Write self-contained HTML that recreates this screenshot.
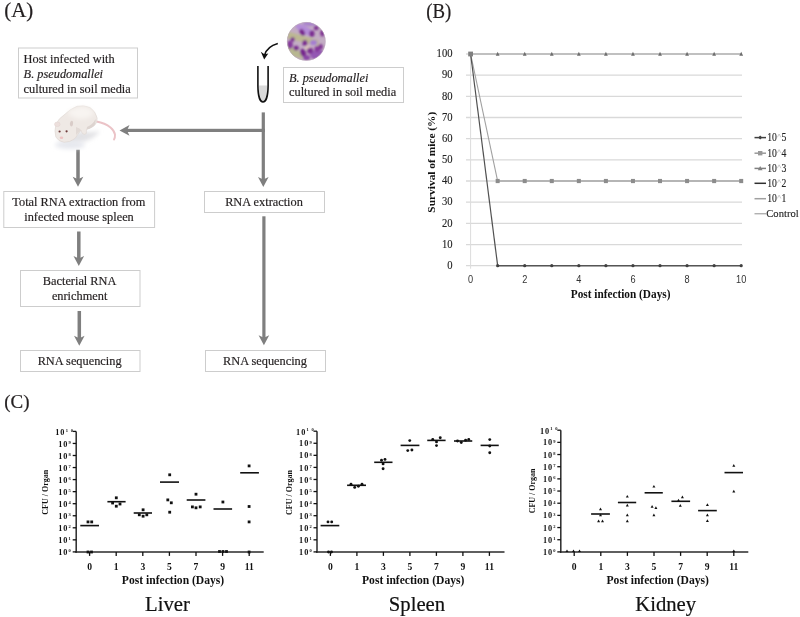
<!DOCTYPE html>
<html><head><meta charset="utf-8"><style>
html,body{margin:0;padding:0;background:#fff;}
svg{display:block;will-change:transform;}
</style></head><body>
<svg width="800" height="617" viewBox="0 0 800 617">
<rect width="800" height="617" fill="#fff"/>
<text transform="translate(4.2 17.1) scale(1.02 1)" font-family="Liberation Serif, serif" font-size="20.5" fill="#231f20" stroke="#231f20" stroke-width="0.2">(A)</text>
<text transform="translate(426.3 17.8) scale(1 1.08)" font-family="Liberation Serif, serif" font-size="18.8" fill="#231f20" stroke="#231f20" stroke-width="0.2">(B)</text>
<text transform="translate(4.3 408) scale(1 1.03)" font-family="Liberation Serif, serif" font-size="19" fill="#231f20" stroke="#231f20" stroke-width="0.2">(C)</text>
<rect x="18.5" y="48" width="119" height="50" fill="#fff" stroke="#cdcdcd" stroke-width="1"/>
<text transform="translate(23.6 62.8) scale(1 1.04)" font-family="Liberation Serif, serif" font-size="12.35" fill="#231f20" stroke="#231f20" stroke-width="0.18">Host infected with</text>
<text transform="translate(23.6 77.8) scale(1 1.04)" font-family="Liberation Serif, serif" font-size="12.35" fill="#231f20" stroke="#231f20" stroke-width="0.18" font-style="italic">B. pseudomallei</text>
<text transform="translate(23.6 92.6) scale(1 1.04)" font-family="Liberation Serif, serif" font-size="12.35" fill="#231f20" stroke="#231f20" stroke-width="0.18">cultured in soil media</text>
<rect x="283.5" y="67.5" width="120" height="35" fill="#fff" stroke="#cdcdcd" stroke-width="1"/>
<text transform="translate(289 81.5) scale(1 1.04)" font-family="Liberation Serif, serif" font-size="12.35" fill="#231f20" stroke="#231f20" stroke-width="0.18" font-style="italic">B. pseudomallei</text>
<text transform="translate(289 96.4) scale(1 1.04)" font-family="Liberation Serif, serif" font-size="12.35" fill="#231f20" stroke="#231f20" stroke-width="0.18">cultured in soil media</text>
<rect x="3.8" y="191.5" width="150.8" height="36" fill="#fff" stroke="#cdcdcd" stroke-width="1"/>
<text transform="translate(78.8 205.8) scale(1 1.04)" font-family="Liberation Serif, serif" font-size="12.35" fill="#231f20" stroke="#231f20" stroke-width="0.18" text-anchor="middle">Total RNA extraction from</text>
<text transform="translate(79 220.8) scale(1 1.04)" font-family="Liberation Serif, serif" font-size="12.35" fill="#231f20" stroke="#231f20" stroke-width="0.18" text-anchor="middle">infected mouse spleen</text>
<rect x="204.5" y="191.5" width="120" height="21" fill="#fff" stroke="#cdcdcd" stroke-width="1"/>
<text transform="translate(264 206) scale(1 1.04)" font-family="Liberation Serif, serif" font-size="12.35" fill="#231f20" stroke="#231f20" stroke-width="0.18" text-anchor="middle">RNA extraction</text>
<rect x="20.5" y="270.5" width="119.5" height="36" fill="#fff" stroke="#cdcdcd" stroke-width="1"/>
<text transform="translate(79.6 284.8) scale(1 1.04)" font-family="Liberation Serif, serif" font-size="12.35" fill="#231f20" stroke="#231f20" stroke-width="0.18" text-anchor="middle">Bacterial RNA</text>
<text transform="translate(79.6 299.7) scale(1 1.04)" font-family="Liberation Serif, serif" font-size="12.35" fill="#231f20" stroke="#231f20" stroke-width="0.18" text-anchor="middle">enrichment</text>
<rect x="20.5" y="350.5" width="119.5" height="21" fill="#fff" stroke="#cdcdcd" stroke-width="1"/>
<text transform="translate(79.6 364.5) scale(1 1.04)" font-family="Liberation Serif, serif" font-size="12.35" fill="#231f20" stroke="#231f20" stroke-width="0.18" text-anchor="middle">RNA sequencing</text>
<rect x="205.5" y="350.5" width="120" height="21" fill="#fff" stroke="#cdcdcd" stroke-width="1"/>
<text transform="translate(265 364.5) scale(1 1.04)" font-family="Liberation Serif, serif" font-size="12.35" fill="#231f20" stroke="#231f20" stroke-width="0.18" text-anchor="middle">RNA sequencing</text>
<rect x="76.25" y="149.7" width="3.5" height="31.100000000000023" fill="#7f7f7f"/>
<path d="M78,186.8 L72.70,176.80 L78.00,179.30 L83.30,176.80 Z" fill="#7f7f7f"/>
<rect x="77.05" y="231.5" width="3.5" height="28.5" fill="#7f7f7f"/>
<path d="M78.8,266 L73.50,256.00 L78.80,258.50 L84.10,256.00 Z" fill="#7f7f7f"/>
<rect x="77.55" y="311" width="3.5" height="28.80000000000001" fill="#7f7f7f"/>
<path d="M79.3,345.8 L74.00,335.80 L79.30,338.30 L84.60,335.80 Z" fill="#7f7f7f"/>
<rect x="261.7" y="112.4" width="3.2" height="68.6" fill="#7f7f7f"/>
<path d="M263.3,187 L258.00,177.00 L263.30,179.50 L268.60,177.00 Z" fill="#7f7f7f"/>
<rect x="262.29999999999995" y="216.3" width="3.2" height="123.0" fill="#7f7f7f"/>
<path d="M263.9,345.3 L258.60,335.30 L263.90,337.80 L269.20,335.30 Z" fill="#7f7f7f"/>
<rect x="126" y="128.8" width="138.90000000000003" height="3.2" fill="#7f7f7f"/>
<path d="M119.5,130.4 L129.50,125.10 L127.00,130.40 L129.50,135.70 Z" fill="#7f7f7f"/>
<path d="M258.6,85.4 L267.4,85.4 L267.4,88 C267.2,97 265.2,101.3 263,101.3 C260.8,101.3 258.8,97 258.6,88 Z" fill="#dadada"/>
<path d="M257.9,66 L257.9,86 C258,96.5 260.4,102 263,102 C265.6,102 268,96.5 268.1,86 L268.1,66" fill="none" stroke="#111" stroke-width="1.6"/>
<path d="M277.8,43.6 Q267,46.5 264.4,55.5" fill="none" stroke="#111" stroke-width="1.6"/>
<path d="M264.2,59.6 L260.8,51.8 L264.4,54.2 L268.3,53.6 Z" fill="#111"/>
<defs><clipPath id="cc"><circle cx="306.3" cy="41.4" r="19.2"/></clipPath>
<filter id="bl" x="-20%" y="-20%" width="140%" height="140%"><feGaussianBlur stdDeviation="0.9"/></filter>
<filter id="bl2" x="-50%" y="-50%" width="200%" height="200%"><feGaussianBlur stdDeviation="2.2"/></filter></defs>
<g clip-path="url(#cc)"><rect x="286" y="22" width="41" height="40" fill="#c3adc4"/><g filter="url(#bl)"><path d="M286,31 L318,40 L319,46 L286,38 Z" fill="#bcb892"/><path d="M286,44 L300,52 L303,59 L286,55 Z" fill="#b7b790"/><ellipse cx="304.5" cy="29.8" rx="10" ry="3.8" transform="rotate(28 304.5 29.8)" fill="#b48cd8"/><ellipse cx="310" cy="23.5" rx="7" ry="2.5" fill="#a982cc"/><ellipse cx="313.6" cy="42.5" rx="3.6" ry="2.6" fill="#a57dd2"/><ellipse cx="307.5" cy="47.5" rx="2.6" ry="2.2" fill="#dcc6bc"/><ellipse cx="318" cy="55" rx="8" ry="5" fill="#9458b4"/><ellipse cx="302.2" cy="32.4" rx="2.4" ry="3.6" transform="rotate(-30 302.2 32.4)" fill="#76288c"/><ellipse cx="311.9" cy="33.7" rx="2.6" ry="3.2" transform="rotate(0 311.9 33.7)" fill="#7a2c90"/><ellipse cx="316.2" cy="28" rx="2.4" ry="2.2" transform="rotate(0 316.2 28)" fill="#7e3192"/><ellipse cx="322.4" cy="33.2" rx="2.2" ry="3.2" transform="rotate(0 322.4 33.2)" fill="#7e3192"/><ellipse cx="292.6" cy="39.4" rx="2.2" ry="2.2" transform="rotate(0 292.6 39.4)" fill="#7a2e90"/><ellipse cx="290" cy="44.8" rx="2.8" ry="4" transform="rotate(0 290 44.8)" fill="#85389c"/><ellipse cx="296.1" cy="48.1" rx="2.6" ry="2.4" transform="rotate(0 296.1 48.1)" fill="#76288c"/><ellipse cx="304.9" cy="42.9" rx="2.5" ry="3" transform="rotate(0 304.9 42.9)" fill="#7a2c90"/><ellipse cx="303.1" cy="52.8" rx="2.8" ry="4" transform="rotate(-20 303.1 52.8)" fill="#76288c"/><ellipse cx="310.1" cy="50.7" rx="3" ry="3" transform="rotate(0 310.1 50.7)" fill="#7a2e90"/><ellipse cx="317.1" cy="49" rx="2.6" ry="3" transform="rotate(0 317.1 49)" fill="#85389c"/><ellipse cx="320.6" cy="46.8" rx="2.2" ry="2.8" transform="rotate(0 320.6 46.8)" fill="#7e3192"/><ellipse cx="306.6" cy="57.7" rx="3.4" ry="2.6" transform="rotate(0 306.6 57.7)" fill="#8a44a6"/></g></g><circle cx="306.3" cy="41.4" r="19" fill="none" stroke="#b9a8b8" stroke-width="0.5"/>
<defs><filter id="bm" x="-20%" y="-20%" width="140%" height="140%"><feGaussianBlur stdDeviation="0.45"/></filter></defs>
<g>
<path d="M58,140 Q70,146 86,141 Q96,137 100,131 Q90,133 80,131 Q68,137 58,140 Z" fill="#e2e2e5" filter="url(#bl2)"/>
<ellipse cx="70" cy="145" rx="15" ry="4" fill="#e6e8ee" filter="url(#bl2)"/>
<path d="M96.5,121.5 Q105,123 110.5,127.5 Q114.5,131 115,134.5 Q115.2,137.5 114,139.5" fill="none" stroke="#ebc3c7" stroke-width="1.9" stroke-linecap="round"/>
<path d="M56,124 Q59,118 64,115 Q70,109 77,106.3 Q84,104.8 90,107.5 Q95.5,111 97.2,118 Q97.5,123 94,126 Q90,128.5 86.5,129.5 L86.3,133.5 Q84.5,135.2 82.5,133.6 L80.8,130.5 Q78,134 75,138.5 Q70,142.5 64,142.3 Q58.5,141.5 55.8,137 Q54,131 56,124 Z" fill="#efe9e5" stroke="#d9d0cc" stroke-width="0.5" filter="url(#bm)"/>
<path d="M67,112 Q75,106.8 84,106.5 Q91,108 94,113 Q91,118 82,119 Q72,118.5 67,112 Z" fill="#f8f4f1" filter="url(#bl2)"/>
<path d="M87,127 Q93,124.5 95.5,119 Q96.5,124 92.5,127 Q89.5,129 86.5,129.5 Z" fill="#ddd4d0" filter="url(#bm)"/>
<path d="M76,127 Q80,128 82,131 L80.8,130.5 Q78,133 76,135 Z" fill="#e2dad6" filter="url(#bm)"/>
<ellipse cx="57.3" cy="124.3" rx="2.8" ry="2.3" fill="#ecdfdc" stroke="#ddd0cc" stroke-width="0.4"/>
<ellipse cx="71.5" cy="123.6" rx="1.6" ry="2.9" transform="rotate(10 71.5 123.6)" fill="#d9ccc8"/>
<circle cx="59.6" cy="131.5" r="1.1" fill="#6e3b3b"/>
<circle cx="66.6" cy="131.3" r="1.1" fill="#6e3b3b"/>
<ellipse cx="61.5" cy="137.8" rx="1.8" ry="1.2" fill="#eec3c3" filter="url(#bm)"/>
</g>
<line x1="466" y1="244.53" x2="742" y2="244.53" stroke="#d9d9d9" stroke-width="1.3"/>
<line x1="466" y1="223.36" x2="742" y2="223.36" stroke="#d9d9d9" stroke-width="1.3"/>
<line x1="466" y1="202.19" x2="742" y2="202.19" stroke="#d9d9d9" stroke-width="1.3"/>
<line x1="466" y1="181.02" x2="742" y2="181.02" stroke="#d9d9d9" stroke-width="1.3"/>
<line x1="466" y1="159.85" x2="742" y2="159.85" stroke="#d9d9d9" stroke-width="1.3"/>
<line x1="466" y1="138.68" x2="742" y2="138.68" stroke="#d9d9d9" stroke-width="1.3"/>
<line x1="466" y1="117.51" x2="742" y2="117.51" stroke="#d9d9d9" stroke-width="1.3"/>
<line x1="466" y1="96.34" x2="742" y2="96.34" stroke="#d9d9d9" stroke-width="1.3"/>
<line x1="466" y1="75.17" x2="742" y2="75.17" stroke="#d9d9d9" stroke-width="1.3"/>
<line x1="466" y1="54.00" x2="742" y2="54.00" stroke="#d9d9d9" stroke-width="1.3"/>
<line x1="466" y1="265.7" x2="742" y2="265.7" stroke="#d9d9d9" stroke-width="1.3"/>
<line x1="470.6" y1="53.99999999999997" x2="470.6" y2="268.7" stroke="#dcdcdc" stroke-width="1"/>
<text transform="translate(452.5 269.00) scale(1 1.12)" font-family="Liberation Serif, serif" font-size="10.6" fill="#222" stroke="#222" stroke-width="0.12" text-anchor="end">0</text>
<text transform="translate(452.5 247.83) scale(1 1.12)" font-family="Liberation Serif, serif" font-size="10.6" fill="#222" stroke="#222" stroke-width="0.12" text-anchor="end">10</text>
<text transform="translate(452.5 226.66) scale(1 1.12)" font-family="Liberation Serif, serif" font-size="10.6" fill="#222" stroke="#222" stroke-width="0.12" text-anchor="end">20</text>
<text transform="translate(452.5 205.49) scale(1 1.12)" font-family="Liberation Serif, serif" font-size="10.6" fill="#222" stroke="#222" stroke-width="0.12" text-anchor="end">30</text>
<text transform="translate(452.5 184.32) scale(1 1.12)" font-family="Liberation Serif, serif" font-size="10.6" fill="#222" stroke="#222" stroke-width="0.12" text-anchor="end">40</text>
<text transform="translate(452.5 163.15) scale(1 1.12)" font-family="Liberation Serif, serif" font-size="10.6" fill="#222" stroke="#222" stroke-width="0.12" text-anchor="end">50</text>
<text transform="translate(452.5 141.98) scale(1 1.12)" font-family="Liberation Serif, serif" font-size="10.6" fill="#222" stroke="#222" stroke-width="0.12" text-anchor="end">60</text>
<text transform="translate(452.5 120.81) scale(1 1.12)" font-family="Liberation Serif, serif" font-size="10.6" fill="#222" stroke="#222" stroke-width="0.12" text-anchor="end">70</text>
<text transform="translate(452.5 99.64) scale(1 1.12)" font-family="Liberation Serif, serif" font-size="10.6" fill="#222" stroke="#222" stroke-width="0.12" text-anchor="end">80</text>
<text transform="translate(452.5 78.47) scale(1 1.12)" font-family="Liberation Serif, serif" font-size="10.6" fill="#222" stroke="#222" stroke-width="0.12" text-anchor="end">90</text>
<text transform="translate(452.5 57.30) scale(1 1.12)" font-family="Liberation Serif, serif" font-size="10.6" fill="#222" stroke="#222" stroke-width="0.12" text-anchor="end">100</text>
<text transform="translate(470.60 283) scale(1 1.15)" font-family="Liberation Sans, sans-serif" font-size="9.2" fill="#333" text-anchor="middle">0</text>
<text transform="translate(524.72 283) scale(1 1.15)" font-family="Liberation Sans, sans-serif" font-size="9.2" fill="#333" text-anchor="middle">2</text>
<text transform="translate(578.84 283) scale(1 1.15)" font-family="Liberation Sans, sans-serif" font-size="9.2" fill="#333" text-anchor="middle">4</text>
<text transform="translate(632.96 283) scale(1 1.15)" font-family="Liberation Sans, sans-serif" font-size="9.2" fill="#333" text-anchor="middle">6</text>
<text transform="translate(687.08 283) scale(1 1.15)" font-family="Liberation Sans, sans-serif" font-size="9.2" fill="#333" text-anchor="middle">8</text>
<text transform="translate(741.20 283) scale(1 1.15)" font-family="Liberation Sans, sans-serif" font-size="9.2" fill="#333" text-anchor="middle">10</text>
<text transform="translate(620.6 297.6) scale(1 1.1)" font-family="Liberation Serif, serif" font-size="11.3" font-weight="bold" fill="#111" text-anchor="middle">Post infection (Days)</text>
<text transform="translate(434.5 162.2) rotate(-90)" x="0" y="0" font-family="Liberation Serif, serif" font-size="11.4" font-weight="bold" fill="#111" text-anchor="middle">Survival of mice (%)</text>
<polyline points="470.60,54.00 497.66,54.00 524.72,54.00 551.78,54.00 578.84,54.00 605.90,54.00 632.96,54.00 660.02,54.00 687.08,54.00 714.14,54.00 741.20,54.00" fill="none" stroke="#b5b5b5" stroke-width="1.5"/>
<polyline points="470.60,54.00 497.66,181.02" fill="none" stroke="#a0a0a0" stroke-width="1.1"/>
<polyline points="497.66,181.02 524.72,181.02 551.78,181.02 578.84,181.02 605.90,181.02 632.96,181.02 660.02,181.02 687.08,181.02 714.14,181.02 741.20,181.02" fill="none" stroke="#b5b5b5" stroke-width="2"/>
<polyline points="470.60,54.00 497.66,265.70" fill="none" stroke="#505050" stroke-width="1.2"/>
<polyline points="497.66,265.70 524.72,265.70 551.78,265.70 578.84,265.70 605.90,265.70 632.96,265.70 660.02,265.70 687.08,265.70 714.14,265.70 741.20,265.70" fill="none" stroke="#555555" stroke-width="1.4"/>
<path d="M497.66,51.80 L499.56,55.80 L495.76,55.80 Z" fill="#6e6e6e"/>
<rect x="495.66" y="178.92" width="4" height="4.2" fill="#8c8c8c"/>
<circle cx="497.66" cy="265.70" r="1.6" fill="#404040"/>
<path d="M524.72,51.80 L526.62,55.80 L522.82,55.80 Z" fill="#6e6e6e"/>
<rect x="522.72" y="178.92" width="4" height="4.2" fill="#8c8c8c"/>
<circle cx="524.72" cy="265.70" r="1.6" fill="#404040"/>
<path d="M551.78,51.80 L553.68,55.80 L549.88,55.80 Z" fill="#6e6e6e"/>
<rect x="549.78" y="178.92" width="4" height="4.2" fill="#8c8c8c"/>
<circle cx="551.78" cy="265.70" r="1.6" fill="#404040"/>
<path d="M578.84,51.80 L580.74,55.80 L576.94,55.80 Z" fill="#6e6e6e"/>
<rect x="576.84" y="178.92" width="4" height="4.2" fill="#8c8c8c"/>
<circle cx="578.84" cy="265.70" r="1.6" fill="#404040"/>
<path d="M605.90,51.80 L607.80,55.80 L604.00,55.80 Z" fill="#6e6e6e"/>
<rect x="603.90" y="178.92" width="4" height="4.2" fill="#8c8c8c"/>
<circle cx="605.90" cy="265.70" r="1.6" fill="#404040"/>
<path d="M632.96,51.80 L634.86,55.80 L631.06,55.80 Z" fill="#6e6e6e"/>
<rect x="630.96" y="178.92" width="4" height="4.2" fill="#8c8c8c"/>
<circle cx="632.96" cy="265.70" r="1.6" fill="#404040"/>
<path d="M660.02,51.80 L661.92,55.80 L658.12,55.80 Z" fill="#6e6e6e"/>
<rect x="658.02" y="178.92" width="4" height="4.2" fill="#8c8c8c"/>
<circle cx="660.02" cy="265.70" r="1.6" fill="#404040"/>
<path d="M687.08,51.80 L688.98,55.80 L685.18,55.80 Z" fill="#6e6e6e"/>
<rect x="685.08" y="178.92" width="4" height="4.2" fill="#8c8c8c"/>
<circle cx="687.08" cy="265.70" r="1.6" fill="#404040"/>
<path d="M714.14,51.80 L716.04,55.80 L712.24,55.80 Z" fill="#6e6e6e"/>
<rect x="712.14" y="178.92" width="4" height="4.2" fill="#8c8c8c"/>
<circle cx="714.14" cy="265.70" r="1.6" fill="#404040"/>
<path d="M741.20,51.80 L743.10,55.80 L739.30,55.80 Z" fill="#6e6e6e"/>
<rect x="739.20" y="178.92" width="4" height="4.2" fill="#8c8c8c"/>
<circle cx="741.20" cy="265.70" r="1.6" fill="#404040"/>
<rect x="468.20" y="51.60" width="4.8" height="4.8" fill="#808080"/>
<line x1="754.5" y1="137.6" x2="766" y2="137.6" stroke="#404040" stroke-width="1.5"/>
<path d="M760.2,135.6 L762.2,137.6 L760.2,139.6 L758.2,137.6 Z" fill="#404040"/>
<text transform="translate(767.2 141.1) scale(0.88 1.07)" font-family="Liberation Serif, serif" font-size="11" fill="#222" stroke="#222" stroke-width="0.12">10</text>
<path d="M777.3,137.40 L779.1,134.00 L780.9,137.40" fill="none" stroke="#b8b8b8" stroke-width="0.7"/>
<text transform="translate(781.4 141.1) scale(0.88 1.07)" font-family="Liberation Serif, serif" font-size="11" fill="#222" stroke="#222" stroke-width="0.12">5</text>
<line x1="754.5" y1="153.2" x2="766" y2="153.2" stroke="#999" stroke-width="1.5"/>
<rect x="758" y="151.0" width="4.4" height="4.4" fill="#999"/>
<text transform="translate(767.2 156.7) scale(0.88 1.07)" font-family="Liberation Serif, serif" font-size="11" fill="#222" stroke="#222" stroke-width="0.12">10</text>
<path d="M777.3,153.00 L779.1,149.60 L780.9,153.00" fill="none" stroke="#b8b8b8" stroke-width="0.7"/>
<text transform="translate(781.4 156.7) scale(0.88 1.07)" font-family="Liberation Serif, serif" font-size="11" fill="#222" stroke="#222" stroke-width="0.12">4</text>
<line x1="754.5" y1="168.4" x2="766" y2="168.4" stroke="#808080" stroke-width="1.5"/>
<path d="M760.2,166.0 L762.6,170.20000000000002 L757.8,170.20000000000002 Z" fill="#808080"/>
<text transform="translate(767.2 171.9) scale(0.88 1.07)" font-family="Liberation Serif, serif" font-size="11" fill="#222" stroke="#222" stroke-width="0.12">10</text>
<path d="M777.3,168.20 L779.1,164.80 L780.9,168.20" fill="none" stroke="#b8b8b8" stroke-width="0.7"/>
<text transform="translate(781.4 171.9) scale(0.88 1.07)" font-family="Liberation Serif, serif" font-size="11" fill="#222" stroke="#222" stroke-width="0.12">3</text>
<line x1="754.5" y1="183.3" x2="766" y2="183.3" stroke="#303030" stroke-width="1.5"/>
<text transform="translate(767.2 186.8) scale(0.88 1.07)" font-family="Liberation Serif, serif" font-size="11" fill="#222" stroke="#222" stroke-width="0.12">10</text>
<path d="M777.3,183.10 L779.1,179.70 L780.9,183.10" fill="none" stroke="#b8b8b8" stroke-width="0.7"/>
<text transform="translate(781.4 186.8) scale(0.88 1.07)" font-family="Liberation Serif, serif" font-size="11" fill="#222" stroke="#222" stroke-width="0.12">2</text>
<line x1="754.5" y1="198.7" x2="766" y2="198.7" stroke="#a0a0a0" stroke-width="1.5"/>
<text transform="translate(767.2 202.2) scale(0.88 1.07)" font-family="Liberation Serif, serif" font-size="11" fill="#222" stroke="#222" stroke-width="0.12">10</text>
<path d="M777.3,198.50 L779.1,195.10 L780.9,198.50" fill="none" stroke="#b8b8b8" stroke-width="0.7"/>
<text transform="translate(781.4 202.2) scale(0.88 1.07)" font-family="Liberation Serif, serif" font-size="11" fill="#222" stroke="#222" stroke-width="0.12">1</text>
<line x1="754.5" y1="213.8" x2="766" y2="213.8" stroke="#909090" stroke-width="1"/>
<text x="766.3" y="217.4" font-family="Liberation Serif, serif" font-size="10.6" fill="#222" stroke="#222" stroke-width="0.12">Control</text>
<line x1="76.2" y1="431.4" x2="76.2" y2="552.65" stroke="#2a2a2a" stroke-width="1.5"/>
<line x1="75.45" y1="551.9" x2="263.7" y2="551.9" stroke="#2a2a2a" stroke-width="1.5"/>
<line x1="72.7" y1="551.90" x2="76.2" y2="551.90" stroke="#111" stroke-width="1.3"/>
<text x="58.30" y="555.00" font-family="Liberation Serif, serif" font-size="8.3" font-weight="bold" fill="#111" letter-spacing="0.9">10</text>
<text x="68.60" y="552.30" font-family="Liberation Serif, serif" font-size="4.5" font-weight="bold" fill="#111">0</text>
<line x1="72.7" y1="539.85" x2="76.2" y2="539.85" stroke="#111" stroke-width="1.3"/>
<text x="58.30" y="542.95" font-family="Liberation Serif, serif" font-size="8.3" font-weight="bold" fill="#111" letter-spacing="0.9">10</text>
<text x="68.60" y="540.25" font-family="Liberation Serif, serif" font-size="4.5" font-weight="bold" fill="#111">1</text>
<line x1="72.7" y1="527.80" x2="76.2" y2="527.80" stroke="#111" stroke-width="1.3"/>
<text x="58.30" y="530.90" font-family="Liberation Serif, serif" font-size="8.3" font-weight="bold" fill="#111" letter-spacing="0.9">10</text>
<text x="68.60" y="528.20" font-family="Liberation Serif, serif" font-size="4.5" font-weight="bold" fill="#111">2</text>
<line x1="72.7" y1="515.75" x2="76.2" y2="515.75" stroke="#111" stroke-width="1.3"/>
<text x="58.30" y="518.85" font-family="Liberation Serif, serif" font-size="8.3" font-weight="bold" fill="#111" letter-spacing="0.9">10</text>
<text x="68.60" y="516.15" font-family="Liberation Serif, serif" font-size="4.5" font-weight="bold" fill="#111">3</text>
<line x1="72.7" y1="503.70" x2="76.2" y2="503.70" stroke="#111" stroke-width="1.3"/>
<text x="58.30" y="506.80" font-family="Liberation Serif, serif" font-size="8.3" font-weight="bold" fill="#111" letter-spacing="0.9">10</text>
<text x="68.60" y="504.10" font-family="Liberation Serif, serif" font-size="4.5" font-weight="bold" fill="#111">4</text>
<line x1="72.7" y1="491.65" x2="76.2" y2="491.65" stroke="#111" stroke-width="1.3"/>
<text x="58.30" y="494.75" font-family="Liberation Serif, serif" font-size="8.3" font-weight="bold" fill="#111" letter-spacing="0.9">10</text>
<text x="68.60" y="492.05" font-family="Liberation Serif, serif" font-size="4.5" font-weight="bold" fill="#111">5</text>
<line x1="72.7" y1="479.60" x2="76.2" y2="479.60" stroke="#111" stroke-width="1.3"/>
<text x="58.30" y="482.70" font-family="Liberation Serif, serif" font-size="8.3" font-weight="bold" fill="#111" letter-spacing="0.9">10</text>
<text x="68.60" y="480.00" font-family="Liberation Serif, serif" font-size="4.5" font-weight="bold" fill="#111">6</text>
<line x1="72.7" y1="467.55" x2="76.2" y2="467.55" stroke="#111" stroke-width="1.3"/>
<text x="58.30" y="470.65" font-family="Liberation Serif, serif" font-size="8.3" font-weight="bold" fill="#111" letter-spacing="0.9">10</text>
<text x="68.60" y="467.95" font-family="Liberation Serif, serif" font-size="4.5" font-weight="bold" fill="#111">7</text>
<line x1="72.7" y1="455.50" x2="76.2" y2="455.50" stroke="#111" stroke-width="1.3"/>
<text x="58.30" y="458.60" font-family="Liberation Serif, serif" font-size="8.3" font-weight="bold" fill="#111" letter-spacing="0.9">10</text>
<text x="68.60" y="455.90" font-family="Liberation Serif, serif" font-size="4.5" font-weight="bold" fill="#111">8</text>
<line x1="72.7" y1="443.45" x2="76.2" y2="443.45" stroke="#111" stroke-width="1.3"/>
<text x="58.30" y="446.55" font-family="Liberation Serif, serif" font-size="8.3" font-weight="bold" fill="#111" letter-spacing="0.9">10</text>
<text x="68.60" y="443.85" font-family="Liberation Serif, serif" font-size="4.5" font-weight="bold" fill="#111">9</text>
<line x1="72.7" y1="431.40" x2="76.2" y2="431.40" stroke="#111" stroke-width="1.3"/>
<text x="55.30" y="434.80" font-family="Liberation Serif, serif" font-size="8.3" font-weight="bold" fill="#111" letter-spacing="0.9">10</text>
<text x="65.70" y="431.50" font-family="Liberation Serif, serif" font-size="4.5" font-weight="bold" fill="#111" letter-spacing="2.8">10</text>
<line x1="89.60" y1="551.9" x2="89.60" y2="555.9" stroke="#111" stroke-width="1.3"/>
<text x="89.60" y="569.5" font-family="Liberation Serif, serif" font-size="9.6" font-weight="bold" fill="#111" text-anchor="middle">0</text>
<line x1="116.20" y1="551.9" x2="116.20" y2="555.9" stroke="#111" stroke-width="1.3"/>
<text x="116.20" y="569.5" font-family="Liberation Serif, serif" font-size="9.6" font-weight="bold" fill="#111" text-anchor="middle">1</text>
<line x1="142.80" y1="551.9" x2="142.80" y2="555.9" stroke="#111" stroke-width="1.3"/>
<text x="142.80" y="569.5" font-family="Liberation Serif, serif" font-size="9.6" font-weight="bold" fill="#111" text-anchor="middle">3</text>
<line x1="169.40" y1="551.9" x2="169.40" y2="555.9" stroke="#111" stroke-width="1.3"/>
<text x="169.40" y="569.5" font-family="Liberation Serif, serif" font-size="9.6" font-weight="bold" fill="#111" text-anchor="middle">5</text>
<line x1="196.00" y1="551.9" x2="196.00" y2="555.9" stroke="#111" stroke-width="1.3"/>
<text x="196.00" y="569.5" font-family="Liberation Serif, serif" font-size="9.6" font-weight="bold" fill="#111" text-anchor="middle">7</text>
<line x1="222.60" y1="551.9" x2="222.60" y2="555.9" stroke="#111" stroke-width="1.3"/>
<text x="222.60" y="569.5" font-family="Liberation Serif, serif" font-size="9.6" font-weight="bold" fill="#111" text-anchor="middle">9</text>
<line x1="249.20" y1="551.9" x2="249.20" y2="555.9" stroke="#111" stroke-width="1.3"/>
<text x="249.20" y="569.5" font-family="Liberation Serif, serif" font-size="9.6" font-weight="bold" fill="#111" text-anchor="middle">11</text>
<text transform="translate(173 584.3) scale(1 1.07)" font-family="Liberation Serif, serif" font-size="11.6" font-weight="bold" fill="#111" text-anchor="middle">Post infection (Days)</text>
<text transform="translate(47.9 492.3) rotate(-90)" font-family="Liberation Serif, serif" font-size="8" font-weight="bold" fill="#111" text-anchor="middle">CFU / Organ</text>
<text x="167.5" y="611" font-family="Liberation Serif, serif" font-size="20.7" fill="#111" stroke="#111" stroke-width="0.2" text-anchor="middle">Liver</text>
<line x1="80.3" y1="525.6" x2="99" y2="525.6" stroke="#111" stroke-width="1.6"/>
<line x1="107.4" y1="501.7" x2="125.6" y2="501.7" stroke="#111" stroke-width="1.6"/>
<line x1="133.7" y1="513" x2="152" y2="513" stroke="#111" stroke-width="1.6"/>
<line x1="160" y1="482.1" x2="179" y2="482.1" stroke="#111" stroke-width="1.6"/>
<line x1="186.7" y1="500" x2="205.4" y2="500" stroke="#111" stroke-width="1.6"/>
<line x1="213.5" y1="509" x2="232.1" y2="509" stroke="#111" stroke-width="1.6"/>
<line x1="240.2" y1="472.8" x2="258.9" y2="472.8" stroke="#111" stroke-width="1.6"/>
<rect x="86.60" y="520.50" width="2.8" height="2.8" fill="#111"/>
<rect x="90.30" y="520.50" width="2.8" height="2.8" fill="#111"/>
<rect x="86.60" y="550.60" width="2.8" height="2.8" fill="#111"/>
<rect x="90.10" y="550.60" width="2.8" height="2.8" fill="#111"/>
<rect x="114.90" y="496.40" width="2.8" height="2.8" fill="#111"/>
<rect x="111.20" y="501.60" width="2.8" height="2.8" fill="#111"/>
<rect x="118.60" y="502.60" width="2.8" height="2.8" fill="#111"/>
<rect x="114.90" y="504.80" width="2.8" height="2.8" fill="#111"/>
<rect x="141.70" y="508.40" width="2.8" height="2.8" fill="#111"/>
<rect x="137.90" y="513.40" width="2.8" height="2.8" fill="#111"/>
<rect x="141.70" y="514.80" width="2.8" height="2.8" fill="#111"/>
<rect x="145.40" y="513.40" width="2.8" height="2.8" fill="#111"/>
<rect x="168.30" y="473.40" width="2.8" height="2.8" fill="#111"/>
<rect x="166.40" y="498.50" width="2.8" height="2.8" fill="#111"/>
<rect x="169.90" y="501.40" width="2.8" height="2.8" fill="#111"/>
<rect x="168.30" y="510.80" width="2.8" height="2.8" fill="#111"/>
<rect x="194.60" y="492.80" width="2.8" height="2.8" fill="#111"/>
<rect x="191.00" y="505.50" width="2.8" height="2.8" fill="#111"/>
<rect x="194.60" y="506.40" width="2.8" height="2.8" fill="#111"/>
<rect x="198.80" y="505.50" width="2.8" height="2.8" fill="#111"/>
<rect x="221.50" y="500.60" width="2.8" height="2.8" fill="#111"/>
<rect x="218.10" y="550.10" width="2.8" height="2.8" fill="#111"/>
<rect x="221.60" y="550.10" width="2.8" height="2.8" fill="#111"/>
<rect x="225.10" y="550.10" width="2.8" height="2.8" fill="#111"/>
<rect x="247.70" y="464.50" width="2.8" height="2.8" fill="#111"/>
<rect x="247.70" y="505.10" width="2.8" height="2.8" fill="#111"/>
<rect x="247.70" y="520.50" width="2.8" height="2.8" fill="#111"/>
<rect x="247.70" y="550.60" width="2.8" height="2.8" fill="#111"/>
<line x1="317" y1="431.2" x2="317" y2="552.65" stroke="#2a2a2a" stroke-width="1.5"/>
<line x1="316.25" y1="551.9" x2="504.5" y2="551.9" stroke="#2a2a2a" stroke-width="1.5"/>
<line x1="313.5" y1="551.90" x2="317" y2="551.90" stroke="#111" stroke-width="1.3"/>
<text x="299.10" y="555.00" font-family="Liberation Serif, serif" font-size="8.3" font-weight="bold" fill="#111" letter-spacing="0.9">10</text>
<text x="309.40" y="552.30" font-family="Liberation Serif, serif" font-size="4.5" font-weight="bold" fill="#111">0</text>
<line x1="313.5" y1="539.83" x2="317" y2="539.83" stroke="#111" stroke-width="1.3"/>
<text x="299.10" y="542.93" font-family="Liberation Serif, serif" font-size="8.3" font-weight="bold" fill="#111" letter-spacing="0.9">10</text>
<text x="309.40" y="540.23" font-family="Liberation Serif, serif" font-size="4.5" font-weight="bold" fill="#111">1</text>
<line x1="313.5" y1="527.76" x2="317" y2="527.76" stroke="#111" stroke-width="1.3"/>
<text x="299.10" y="530.86" font-family="Liberation Serif, serif" font-size="8.3" font-weight="bold" fill="#111" letter-spacing="0.9">10</text>
<text x="309.40" y="528.16" font-family="Liberation Serif, serif" font-size="4.5" font-weight="bold" fill="#111">2</text>
<line x1="313.5" y1="515.69" x2="317" y2="515.69" stroke="#111" stroke-width="1.3"/>
<text x="299.10" y="518.79" font-family="Liberation Serif, serif" font-size="8.3" font-weight="bold" fill="#111" letter-spacing="0.9">10</text>
<text x="309.40" y="516.09" font-family="Liberation Serif, serif" font-size="4.5" font-weight="bold" fill="#111">3</text>
<line x1="313.5" y1="503.62" x2="317" y2="503.62" stroke="#111" stroke-width="1.3"/>
<text x="299.10" y="506.72" font-family="Liberation Serif, serif" font-size="8.3" font-weight="bold" fill="#111" letter-spacing="0.9">10</text>
<text x="309.40" y="504.02" font-family="Liberation Serif, serif" font-size="4.5" font-weight="bold" fill="#111">4</text>
<line x1="313.5" y1="491.55" x2="317" y2="491.55" stroke="#111" stroke-width="1.3"/>
<text x="299.10" y="494.65" font-family="Liberation Serif, serif" font-size="8.3" font-weight="bold" fill="#111" letter-spacing="0.9">10</text>
<text x="309.40" y="491.95" font-family="Liberation Serif, serif" font-size="4.5" font-weight="bold" fill="#111">5</text>
<line x1="313.5" y1="479.48" x2="317" y2="479.48" stroke="#111" stroke-width="1.3"/>
<text x="299.10" y="482.58" font-family="Liberation Serif, serif" font-size="8.3" font-weight="bold" fill="#111" letter-spacing="0.9">10</text>
<text x="309.40" y="479.88" font-family="Liberation Serif, serif" font-size="4.5" font-weight="bold" fill="#111">6</text>
<line x1="313.5" y1="467.41" x2="317" y2="467.41" stroke="#111" stroke-width="1.3"/>
<text x="299.10" y="470.51" font-family="Liberation Serif, serif" font-size="8.3" font-weight="bold" fill="#111" letter-spacing="0.9">10</text>
<text x="309.40" y="467.81" font-family="Liberation Serif, serif" font-size="4.5" font-weight="bold" fill="#111">7</text>
<line x1="313.5" y1="455.34" x2="317" y2="455.34" stroke="#111" stroke-width="1.3"/>
<text x="299.10" y="458.44" font-family="Liberation Serif, serif" font-size="8.3" font-weight="bold" fill="#111" letter-spacing="0.9">10</text>
<text x="309.40" y="455.74" font-family="Liberation Serif, serif" font-size="4.5" font-weight="bold" fill="#111">8</text>
<line x1="313.5" y1="443.27" x2="317" y2="443.27" stroke="#111" stroke-width="1.3"/>
<text x="299.10" y="446.37" font-family="Liberation Serif, serif" font-size="8.3" font-weight="bold" fill="#111" letter-spacing="0.9">10</text>
<text x="309.40" y="443.67" font-family="Liberation Serif, serif" font-size="4.5" font-weight="bold" fill="#111">9</text>
<line x1="313.5" y1="431.20" x2="317" y2="431.20" stroke="#111" stroke-width="1.3"/>
<text x="296.10" y="434.60" font-family="Liberation Serif, serif" font-size="8.3" font-weight="bold" fill="#111" letter-spacing="0.9">10</text>
<text x="306.50" y="431.30" font-family="Liberation Serif, serif" font-size="4.5" font-weight="bold" fill="#111" letter-spacing="2.8">10</text>
<line x1="330.40" y1="551.9" x2="330.40" y2="555.9" stroke="#111" stroke-width="1.3"/>
<text x="330.40" y="569.5" font-family="Liberation Serif, serif" font-size="9.6" font-weight="bold" fill="#111" text-anchor="middle">0</text>
<line x1="356.90" y1="551.9" x2="356.90" y2="555.9" stroke="#111" stroke-width="1.3"/>
<text x="356.90" y="569.5" font-family="Liberation Serif, serif" font-size="9.6" font-weight="bold" fill="#111" text-anchor="middle">1</text>
<line x1="383.40" y1="551.9" x2="383.40" y2="555.9" stroke="#111" stroke-width="1.3"/>
<text x="383.40" y="569.5" font-family="Liberation Serif, serif" font-size="9.6" font-weight="bold" fill="#111" text-anchor="middle">3</text>
<line x1="409.90" y1="551.9" x2="409.90" y2="555.9" stroke="#111" stroke-width="1.3"/>
<text x="409.90" y="569.5" font-family="Liberation Serif, serif" font-size="9.6" font-weight="bold" fill="#111" text-anchor="middle">5</text>
<line x1="436.40" y1="551.9" x2="436.40" y2="555.9" stroke="#111" stroke-width="1.3"/>
<text x="436.40" y="569.5" font-family="Liberation Serif, serif" font-size="9.6" font-weight="bold" fill="#111" text-anchor="middle">7</text>
<line x1="462.90" y1="551.9" x2="462.90" y2="555.9" stroke="#111" stroke-width="1.3"/>
<text x="462.90" y="569.5" font-family="Liberation Serif, serif" font-size="9.6" font-weight="bold" fill="#111" text-anchor="middle">9</text>
<line x1="489.40" y1="551.9" x2="489.40" y2="555.9" stroke="#111" stroke-width="1.3"/>
<text x="489.40" y="569.5" font-family="Liberation Serif, serif" font-size="9.6" font-weight="bold" fill="#111" text-anchor="middle">11</text>
<text transform="translate(413.2 584.3) scale(1 1.07)" font-family="Liberation Serif, serif" font-size="11.6" font-weight="bold" fill="#111" text-anchor="middle">Post infection (Days)</text>
<text transform="translate(291.6 492.5) rotate(-90)" font-family="Liberation Serif, serif" font-size="8" font-weight="bold" fill="#111" text-anchor="middle">CFU / Organ</text>
<text x="417" y="611" font-family="Liberation Serif, serif" font-size="20.7" fill="#111" stroke="#111" stroke-width="0.2" text-anchor="middle">Spleen</text>
<line x1="320.6" y1="525.6" x2="339.3" y2="525.6" stroke="#111" stroke-width="1.6"/>
<line x1="347.1" y1="485.3" x2="366" y2="485.3" stroke="#111" stroke-width="1.6"/>
<line x1="374.2" y1="462.3" x2="392.5" y2="462.3" stroke="#111" stroke-width="1.6"/>
<line x1="400.6" y1="445.4" x2="419.4" y2="445.4" stroke="#111" stroke-width="1.6"/>
<line x1="427.25" y1="440.4" x2="445.6" y2="440.4" stroke="#111" stroke-width="1.6"/>
<line x1="454" y1="441" x2="472.25" y2="441" stroke="#111" stroke-width="1.6"/>
<line x1="480.6" y1="445.4" x2="498.75" y2="445.4" stroke="#111" stroke-width="1.6"/>
<circle cx="328" cy="521.9" r="1.45" fill="#111"/>
<circle cx="331.7" cy="521.9" r="1.45" fill="#111"/>
<circle cx="328.5" cy="552" r="1.45" fill="#111"/>
<circle cx="331.5" cy="552" r="1.45" fill="#111"/>
<circle cx="351" cy="484.2" r="1.45" fill="#111"/>
<circle cx="354.7" cy="487.4" r="1.45" fill="#111"/>
<circle cx="358.4" cy="486.3" r="1.45" fill="#111"/>
<circle cx="362" cy="484.2" r="1.45" fill="#111"/>
<circle cx="381.5" cy="460.3" r="1.45" fill="#111"/>
<circle cx="385" cy="459.4" r="1.45" fill="#111"/>
<circle cx="383.1" cy="463.9" r="1.45" fill="#111"/>
<circle cx="383.1" cy="468.8" r="1.45" fill="#111"/>
<circle cx="409.75" cy="440.6" r="1.45" fill="#111"/>
<circle cx="407.75" cy="450.6" r="1.45" fill="#111"/>
<circle cx="411.9" cy="450" r="1.45" fill="#111"/>
<circle cx="432.75" cy="439.4" r="1.45" fill="#111"/>
<circle cx="440.25" cy="437.75" r="1.45" fill="#111"/>
<circle cx="436.5" cy="441.9" r="1.45" fill="#111"/>
<circle cx="436.5" cy="445.6" r="1.45" fill="#111"/>
<circle cx="457.5" cy="441" r="1.45" fill="#111"/>
<circle cx="461.25" cy="442.5" r="1.45" fill="#111"/>
<circle cx="465.6" cy="440.25" r="1.45" fill="#111"/>
<circle cx="468.75" cy="439.4" r="1.45" fill="#111"/>
<circle cx="489.75" cy="439.6" r="1.45" fill="#111"/>
<circle cx="489.75" cy="446" r="1.45" fill="#111"/>
<circle cx="489.75" cy="452.75" r="1.45" fill="#111"/>
<line x1="560.8" y1="430.2" x2="560.8" y2="552.65" stroke="#2a2a2a" stroke-width="1.5"/>
<line x1="560.05" y1="551.9" x2="748.3" y2="551.9" stroke="#2a2a2a" stroke-width="1.5"/>
<line x1="557.3" y1="551.90" x2="560.8" y2="551.90" stroke="#111" stroke-width="1.3"/>
<text x="542.90" y="555.00" font-family="Liberation Serif, serif" font-size="8.3" font-weight="bold" fill="#111" letter-spacing="0.9">10</text>
<text x="553.20" y="552.30" font-family="Liberation Serif, serif" font-size="4.5" font-weight="bold" fill="#111">0</text>
<line x1="557.3" y1="539.73" x2="560.8" y2="539.73" stroke="#111" stroke-width="1.3"/>
<text x="542.90" y="542.83" font-family="Liberation Serif, serif" font-size="8.3" font-weight="bold" fill="#111" letter-spacing="0.9">10</text>
<text x="553.20" y="540.13" font-family="Liberation Serif, serif" font-size="4.5" font-weight="bold" fill="#111">1</text>
<line x1="557.3" y1="527.56" x2="560.8" y2="527.56" stroke="#111" stroke-width="1.3"/>
<text x="542.90" y="530.66" font-family="Liberation Serif, serif" font-size="8.3" font-weight="bold" fill="#111" letter-spacing="0.9">10</text>
<text x="553.20" y="527.96" font-family="Liberation Serif, serif" font-size="4.5" font-weight="bold" fill="#111">2</text>
<line x1="557.3" y1="515.39" x2="560.8" y2="515.39" stroke="#111" stroke-width="1.3"/>
<text x="542.90" y="518.49" font-family="Liberation Serif, serif" font-size="8.3" font-weight="bold" fill="#111" letter-spacing="0.9">10</text>
<text x="553.20" y="515.79" font-family="Liberation Serif, serif" font-size="4.5" font-weight="bold" fill="#111">3</text>
<line x1="557.3" y1="503.22" x2="560.8" y2="503.22" stroke="#111" stroke-width="1.3"/>
<text x="542.90" y="506.32" font-family="Liberation Serif, serif" font-size="8.3" font-weight="bold" fill="#111" letter-spacing="0.9">10</text>
<text x="553.20" y="503.62" font-family="Liberation Serif, serif" font-size="4.5" font-weight="bold" fill="#111">4</text>
<line x1="557.3" y1="491.05" x2="560.8" y2="491.05" stroke="#111" stroke-width="1.3"/>
<text x="542.90" y="494.15" font-family="Liberation Serif, serif" font-size="8.3" font-weight="bold" fill="#111" letter-spacing="0.9">10</text>
<text x="553.20" y="491.45" font-family="Liberation Serif, serif" font-size="4.5" font-weight="bold" fill="#111">5</text>
<line x1="557.3" y1="478.88" x2="560.8" y2="478.88" stroke="#111" stroke-width="1.3"/>
<text x="542.90" y="481.98" font-family="Liberation Serif, serif" font-size="8.3" font-weight="bold" fill="#111" letter-spacing="0.9">10</text>
<text x="553.20" y="479.28" font-family="Liberation Serif, serif" font-size="4.5" font-weight="bold" fill="#111">6</text>
<line x1="557.3" y1="466.71" x2="560.8" y2="466.71" stroke="#111" stroke-width="1.3"/>
<text x="542.90" y="469.81" font-family="Liberation Serif, serif" font-size="8.3" font-weight="bold" fill="#111" letter-spacing="0.9">10</text>
<text x="553.20" y="467.11" font-family="Liberation Serif, serif" font-size="4.5" font-weight="bold" fill="#111">7</text>
<line x1="557.3" y1="454.54" x2="560.8" y2="454.54" stroke="#111" stroke-width="1.3"/>
<text x="542.90" y="457.64" font-family="Liberation Serif, serif" font-size="8.3" font-weight="bold" fill="#111" letter-spacing="0.9">10</text>
<text x="553.20" y="454.94" font-family="Liberation Serif, serif" font-size="4.5" font-weight="bold" fill="#111">8</text>
<line x1="557.3" y1="442.37" x2="560.8" y2="442.37" stroke="#111" stroke-width="1.3"/>
<text x="542.90" y="445.47" font-family="Liberation Serif, serif" font-size="8.3" font-weight="bold" fill="#111" letter-spacing="0.9">10</text>
<text x="553.20" y="442.77" font-family="Liberation Serif, serif" font-size="4.5" font-weight="bold" fill="#111">9</text>
<line x1="557.3" y1="430.20" x2="560.8" y2="430.20" stroke="#111" stroke-width="1.3"/>
<text x="539.90" y="433.60" font-family="Liberation Serif, serif" font-size="8.3" font-weight="bold" fill="#111" letter-spacing="0.9">10</text>
<text x="550.30" y="430.30" font-family="Liberation Serif, serif" font-size="4.5" font-weight="bold" fill="#111" letter-spacing="2.8">10</text>
<line x1="574.20" y1="551.9" x2="574.20" y2="555.9" stroke="#111" stroke-width="1.3"/>
<text x="574.20" y="569.5" font-family="Liberation Serif, serif" font-size="9.6" font-weight="bold" fill="#111" text-anchor="middle">0</text>
<line x1="600.80" y1="551.9" x2="600.80" y2="555.9" stroke="#111" stroke-width="1.3"/>
<text x="600.80" y="569.5" font-family="Liberation Serif, serif" font-size="9.6" font-weight="bold" fill="#111" text-anchor="middle">1</text>
<line x1="627.40" y1="551.9" x2="627.40" y2="555.9" stroke="#111" stroke-width="1.3"/>
<text x="627.40" y="569.5" font-family="Liberation Serif, serif" font-size="9.6" font-weight="bold" fill="#111" text-anchor="middle">3</text>
<line x1="654.00" y1="551.9" x2="654.00" y2="555.9" stroke="#111" stroke-width="1.3"/>
<text x="654.00" y="569.5" font-family="Liberation Serif, serif" font-size="9.6" font-weight="bold" fill="#111" text-anchor="middle">5</text>
<line x1="680.60" y1="551.9" x2="680.60" y2="555.9" stroke="#111" stroke-width="1.3"/>
<text x="680.60" y="569.5" font-family="Liberation Serif, serif" font-size="9.6" font-weight="bold" fill="#111" text-anchor="middle">7</text>
<line x1="707.20" y1="551.9" x2="707.20" y2="555.9" stroke="#111" stroke-width="1.3"/>
<text x="707.20" y="569.5" font-family="Liberation Serif, serif" font-size="9.6" font-weight="bold" fill="#111" text-anchor="middle">9</text>
<line x1="733.80" y1="551.9" x2="733.80" y2="555.9" stroke="#111" stroke-width="1.3"/>
<text x="733.80" y="569.5" font-family="Liberation Serif, serif" font-size="9.6" font-weight="bold" fill="#111" text-anchor="middle">11</text>
<text transform="translate(657.7 584.3) scale(1 1.07)" font-family="Liberation Serif, serif" font-size="11.6" font-weight="bold" fill="#111" text-anchor="middle">Post infection (Days)</text>
<text transform="translate(535.3 490.9) rotate(-90)" font-family="Liberation Serif, serif" font-size="8" font-weight="bold" fill="#111" text-anchor="middle">CFU / Organ</text>
<text x="665.7" y="611" font-family="Liberation Serif, serif" font-size="20.7" fill="#111" stroke="#111" stroke-width="0.2" text-anchor="middle">Kidney</text>
<line x1="591.1" y1="514" x2="609.9" y2="514" stroke="#111" stroke-width="1.6"/>
<line x1="617.9" y1="502.5" x2="636.2" y2="502.5" stroke="#111" stroke-width="1.6"/>
<line x1="644.6" y1="492.8" x2="662.8" y2="492.8" stroke="#111" stroke-width="1.6"/>
<line x1="671.4" y1="501.3" x2="690.1" y2="501.3" stroke="#111" stroke-width="1.6"/>
<line x1="698.1" y1="510.6" x2="716.8" y2="510.6" stroke="#111" stroke-width="1.6"/>
<line x1="724.5" y1="472.6" x2="743" y2="472.6" stroke="#111" stroke-width="1.6"/>
<path d="M567,549.4 L568.5,552.1 L565.5,552.1 Z" fill="#111"/>
<path d="M573.5,549.4 L575.0,552.1 L572.0,552.1 Z" fill="#111"/>
<path d="M579.5,549.4 L581.0,552.1 L578.0,552.1 Z" fill="#111"/>
<path d="M600.5,507.5 L602.0,510.20000000000005 L599.0,510.20000000000005 Z" fill="#111"/>
<path d="M600.5,513.5 L602.0,516.2 L599.0,516.2 Z" fill="#111"/>
<path d="M598.6,519.5 L600.1,522.2 L597.1,522.2 Z" fill="#111"/>
<path d="M602.5,519.5 L604.0,522.2 L601.0,522.2 Z" fill="#111"/>
<path d="M627.3,494.9 L628.8,497.6 L625.8,497.6 Z" fill="#111"/>
<path d="M627.3,503.79999999999995 L628.8,506.5 L625.8,506.5 Z" fill="#111"/>
<path d="M627.3,513.5 L628.8,516.2 L625.8,516.2 Z" fill="#111"/>
<path d="M627.3,519.5 L628.8,522.2 L625.8,522.2 Z" fill="#111"/>
<path d="M653.9,484.9 L655.4,487.6 L652.4,487.6 Z" fill="#111"/>
<path d="M652.1,505.09999999999997 L653.6,507.8 L650.6,507.8 Z" fill="#111"/>
<path d="M655.9,506.29999999999995 L657.4,509.0 L654.4,509.0 Z" fill="#111"/>
<path d="M653.9,513.5 L655.4,516.2 L652.4,516.2 Z" fill="#111"/>
<path d="M678.5,498.79999999999995 L680.0,501.5 L677.0,501.5 Z" fill="#111"/>
<path d="M682.4,495.59999999999997 L683.9,498.3 L680.9,498.3 Z" fill="#111"/>
<path d="M680.3,504.0 L681.8,506.70000000000005 L678.8,506.70000000000005 Z" fill="#111"/>
<path d="M707.4,503.29999999999995 L708.9,506.0 L705.9,506.0 Z" fill="#111"/>
<path d="M707.4,513.5 L708.9,516.2 L705.9,516.2 Z" fill="#111"/>
<path d="M707.4,519.3 L708.9,522.0 L705.9,522.0 Z" fill="#111"/>
<path d="M733.8,464.09999999999997 L735.3,466.8 L732.3,466.8 Z" fill="#111"/>
<path d="M733.8,489.79999999999995 L735.3,492.5 L732.3,492.5 Z" fill="#111"/>
<path d="M733.8,549.4 L735.3,552.1 L732.3,552.1 Z" fill="#111"/>
</svg>
</body></html>
